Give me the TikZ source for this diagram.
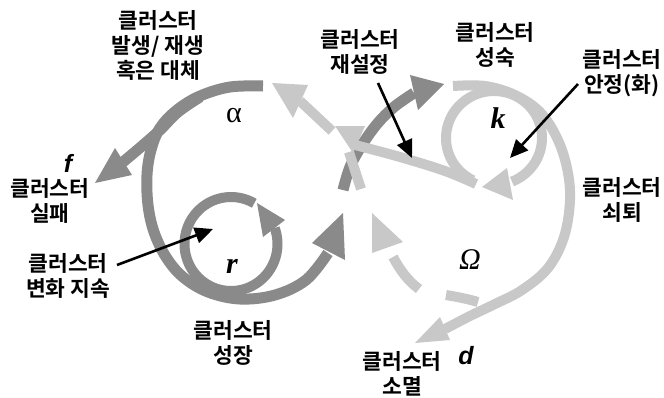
\documentclass[tikz,border=0pt]{standalone}
\usepackage{fontspec}
\newfontfamily\kr{Noto Sans CJK KR}[BoldFont={Noto Sans CJK KR Bold}]
\newfontfamily\lser{Liberation Serif}
\newfontfamily\lsans{Liberation Sans}
\usetikzlibrary{arrows.meta}
\definecolor{dk}{HTML}{8A8A8A}
\definecolor{lt}{HTML}{C8C8C8}
\begin{document}
\begin{tikzpicture}[x=1pt,y=-1pt,
  lbl/.style={font=\kr\bfseries\fontsize{21.5}{25}\selectfont, align=center, inner sep=0pt},
  sym/.style={font=\lser\fontsize{30}{30}\selectfont, inner sep=0pt},
  ltr/.style={font=\lsans\bfseries\itshape\fontsize{25}{25}\selectfont, inner sep=0pt},
  dband/.style={draw=dk, line width=11pt},
  lband/.style={draw=lt, line width=10pt},
  note/.style={draw=black, line width=2.6pt, -{Triangle[length=18pt,width=16pt]}},
]
\useasboundingbox (0,0) rectangle (664,397);
\fill[white] (0,0) rectangle (664,397);

% ---------- dark (front) paths ----------
\draw[dband] plot[smooth, tension=0.6] coordinates {(263,86) (230,87) (200,96) (177,110) (160,128) (151,150) (147,175) (148,205) (154,232) (166,257) (183,277) (208,292) (240,299) (275,295) (306,280) (328,253)};
\draw[dband] plot[smooth, tension=0.6] coordinates {(123,162) (142,146) (160,130) (178,112) (200,97)};
\draw[dk, line width=10pt] plot[domain=60:380, samples=80] ({231+46.5*cos(\x)},{244-47*sin(\x)});
\draw[dband] plot[smooth, tension=0.6] coordinates {(343,190) (350,167) (362,145) (377,124) (394,107) (414,93)};
\fill[dk] (95,183) -- (115,148) -- (132,175) -- cycle;
\fill[dk] (312,243) -- (343,213) -- (345,260) -- cycle;
\fill[dk] (410,75) -- (418,110) -- (444,84) -- cycle;
\fill[dk] (257,203) -- (285,220) -- (263,237) -- cycle;

% ---------- light (back) paths ----------
\draw[lband] plot[smooth, tension=0.6] coordinates {(453,86) (485,86) (515,95) (540,112) (557,138) (567,168) (570,200) (564,237) (548,268) (522,290) (495,304) (470,316) (445,329)};
\draw[lband] plot[domain=244:-68, samples=80] ({494+48*cos(\x)},{138-47*sin(\x)});
\draw[lband] plot[smooth, tension=0.6] coordinates {(355,145) (400,157) (445,171) (476,184)};
\fill[lt] (415,343) -- (440,317) -- (450,340) -- cycle;
\fill[lt] (482,187) -- (507,168) -- (513,200) -- cycle;
\fill[lt] (272,83) -- (308,85) -- (293,118) -- cycle;
\draw[lband] (300,101) -- (332,131);
\fill[lt] (335,126) -- (365,126) -- (353,153) -- cycle;
\draw[lband] (349,152) -- (361,189);
\fill[lt] (372,213) -- (403,242) -- (372,253) -- cycle;
\draw[lband] (393,257) .. controls (400,270) and (408,281) .. (419,289);
\draw[lband] (446,295) .. controls (458,297) and (468,299) .. (478,302);

% ---------- labels ----------
\node[lbl] (birth) at (158,45) {클러스터\\발생/ 재생\\혹은 대체};
\node[ltr] (f) at (68,163) {f};
\node[lbl] (fail) at (50,201) {클러스터\\실패};
\node[sym] (alpha) at (234,116) {α};
\node[lbl] (chg) at (68,275.5) {클러스터\\변화 지속};
\node[sym, font=\lser\bfseries\itshape\fontsize{30}{30}\selectfont] (r) at (232,266) {r};
\node[lbl] (grow) at (233,342.5) {클러스터\\성장};
\node[lbl] (reorg) at (360,51.5) {클러스터\\재설정};
\node[lbl] (mature) at (495,45) {클러스터\\성숙};
\node[sym, font=\lser\bfseries\itshape\fontsize{30}{30}\selectfont] (k) at (498,118) {k};
\node[lbl] (stab) at (622,73.5) {클러스터\\안정(화)};
\node[lbl] (decl) at (622,200) {클러스터\\쇠퇴};
\node[sym, font=\lser\itshape\fontsize{30}{30}\selectfont] (om) at (470,260) {Ω};
\node[ltr] (d) at (466,356) {d};
\node[lbl] (ext) at (402,373.5) {클러스터\\소멸};

% ---------- annotation arrows ----------
\coordinate (chgS) at (117,265);
\coordinate (chgT) at (213,229);
\coordinate (reorgS) at (378,83);
\coordinate (reorgT) at (412,158);
\coordinate (stabS) at (578,84);
\coordinate (stabT) at (510,158);
\draw[note] (chgS) -- (chgT);
\draw[note] (reorgS) -- (reorgT);
\draw[note] (stabS) -- (stabT);
\end{tikzpicture}
\end{document}
